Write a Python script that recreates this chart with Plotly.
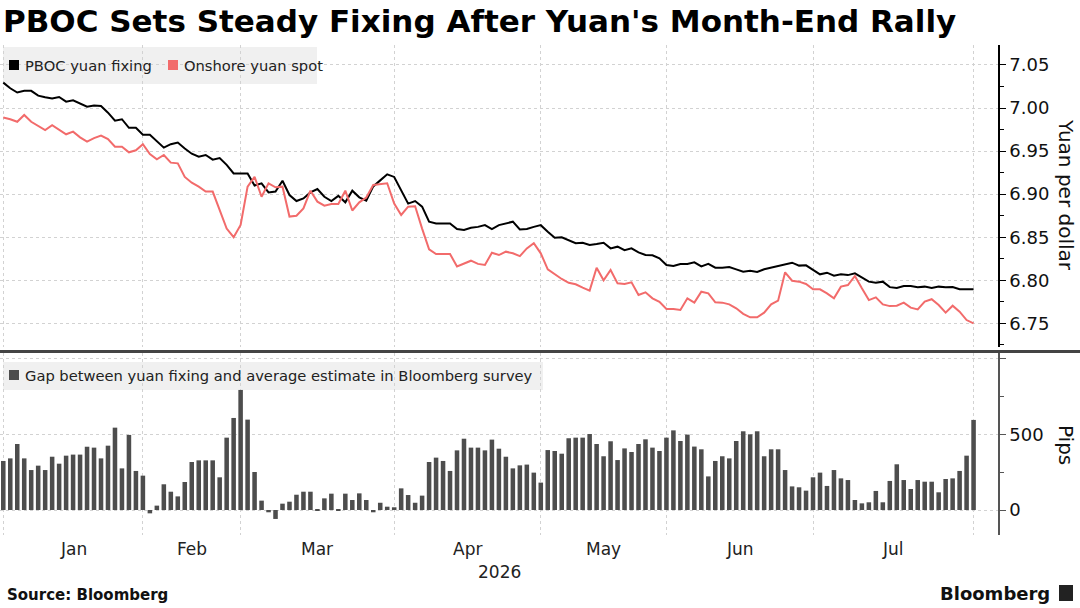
import pandas as pd
import plotly.graph_objects as go

# trading days shown on the chart (China onshore market, 2026)
holidays = ["2026-01-01", "2026-01-02", "2026-02-16", "2026-02-17", "2026-02-18",
            "2026-02-19", "2026-02-20", "2026-02-23", "2026-04-06", "2026-05-01",
            "2026-05-04", "2026-05-05", "2026-06-19"]
days = pd.bdate_range("2026-01-01", "2026-08-03")
days = days[~days.isin(pd.to_datetime(holidays))]
dates = [d.strftime("%Y-%m-%d") for d in days]

month_labels = ["Jan", "Feb", "Mar", "Apr", "May", "Jun", "Jul"]
year_label = "2026"

fixing = [
    7.0295, 7.0230, 7.0180, 7.0200, 7.0200, 7.0144, 7.0125, 7.0110, 7.0128, 7.0074,
    7.0090, 7.0055, 7.0016, 7.0028, 7.0024, 6.9946, 6.9853, 6.9870, 6.9770, 6.9770,
    6.9690, 6.9690, 6.9620, 6.9540, 6.9580, 6.9600, 6.9530, 6.9470, 6.9435, 6.9455,
    6.9400, 6.9420, 6.9340, 6.9240, 6.9240, 6.9240, 6.9100, 6.9125, 6.9020, 6.9030,
    6.9155, 6.8990, 6.8920, 6.8950, 6.9020, 6.9060, 6.8970, 6.8920, 6.8980, 6.8905,
    6.9040, 6.8963, 6.8925, 6.9090, 6.9160, 6.9230, 6.9200, 6.9050, 6.8890, 6.8920,
    6.8855, 6.8680, 6.8660, 6.8660, 6.8660, 6.8595, 6.8584, 6.8610, 6.8620, 6.8640,
    6.8595, 6.8640, 6.8660, 6.8680, 6.8590, 6.8595, 6.8620, 6.8640, 6.8564, 6.8495,
    6.8500, 6.8467, 6.8430, 6.8436, 6.8410, 6.8420, 6.8436, 6.8370, 6.8390, 6.8350,
    6.8370, 6.8324, 6.8293, 6.8290, 6.8255, 6.8177, 6.8166, 6.8188, 6.8188, 6.8208,
    6.8160, 6.8190, 6.8146, 6.8146, 6.8154, 6.8127, 6.8100, 6.8110, 6.8096, 6.8127,
    6.8146, 6.8166, 6.8185, 6.8204, 6.8170, 6.8173, 6.8120, 6.8069, 6.8088, 6.8053,
    6.8070, 6.8060, 6.8080, 6.8034, 6.7984, 6.7970, 6.7984, 6.7920, 6.7910, 6.7933,
    6.7933, 6.7920, 6.7926, 6.7910, 6.7926, 6.7920, 6.7922, 6.7895, 6.7895, 6.7895,
]

spot = [
    6.9890, 6.9870, 6.9840, 6.9920, 6.9840, 6.9790, 6.9745, 6.9800, 6.9745, 6.9695,
    6.9726, 6.9660, 6.9610, 6.9650, 6.9680, 6.9640, 6.9550, 6.9550, 6.9486, 6.9510,
    6.9580, 6.9466, 6.9404, 6.9455, 6.9366, 6.9358, 6.9200, 6.9133, 6.9087, 6.9030,
    6.9030, 6.8810, 6.8600, 6.8500, 6.8642, 6.9087, 6.9200, 6.8970, 6.9126, 6.9080,
    6.9087, 6.8740, 6.8750, 6.8835, 6.9040, 6.8913, 6.8866, 6.8886, 6.8886, 6.9040,
    6.8810, 6.8905, 6.8960, 6.9106, 6.9120, 6.9126, 6.8890, 6.8758, 6.8855, 6.8860,
    6.8600, 6.8360, 6.8305, 6.8305, 6.8305, 6.8160, 6.8190, 6.8227, 6.8190, 6.8177,
    6.8320, 6.8293, 6.8332, 6.8313, 6.8280, 6.8370, 6.8430, 6.8313, 6.8127, 6.8070,
    6.8015, 6.7970, 6.7953, 6.7914, 6.7880, 6.8146, 6.8000, 6.8119, 6.7964, 6.7956,
    6.7976, 6.7830, 6.7860, 6.7790, 6.7750, 6.7666, 6.7666, 6.7655, 6.7790, 6.7740,
    6.7867, 6.7848, 6.7744, 6.7740, 6.7720, 6.7674, 6.7610, 6.7570, 6.7570, 6.7624,
    6.7720, 6.7763, 6.8092, 6.7995, 6.7984, 6.7957, 6.7895, 6.7895, 6.7848, 6.7790,
    6.7926, 6.7945, 6.8050, 6.7906, 6.7770, 6.7802, 6.7720, 6.7700, 6.7705, 6.7740,
    6.7682, 6.7662, 6.7752, 6.7780, 6.7713, 6.7624, 6.7705, 6.7635, 6.7538, 6.7500,
]

# gap between fixing and survey estimate, pips
gap = [
    324, 341, 436, 341, 264, 293, 264, 352, 306, 359, 366, 366, 418, 412, 341, 425, 544, 275, 496, 258,
    227, -22, 29, 170, 121, 90, 185, 317, 328, 328, 328, 216, 478, 608,
    793, 597, 251, 62, -15, -59, 42, 55, 101, 121, 121, 3, 77, 108, 3, 108, 66, 110, 66, -15, 48, 22,
    18, 143, 99, 48, 95, 317, 346, 324, 258, 394, 471, 412, 412, 394, 465, 405, 352, 275, 295, 300, 247,
    181, 396, 390, 372, 474, 478, 478, 502, 436, 355, 454, 330, 407, 383, 436, 467, 412, 390,
    478, 526, 456, 498, 419, 401, 222, 324, 355, 341, 456, 520, 500, 520, 355, 401, 401, 264, 156, 150, 128,
    216, 247, 159, 264, 209, 198, 66, 44, 51, 126, 51, 192, 302, 198, 139, 198, 187, 187, 117, 205, 209, 258, 359,
    595,
]

# first trading day of every month -> vertical grid
month_idx = []
for i, d in enumerate(dates):
    if i == 0 or d[:7] != dates[i - 1][:7]:
        month_idx.append(i)
month_starts = [dates[i] for i in month_idx]

FONT = "DejaVu Sans"
W, H = 1080, 608
L, R, T, B = 0, 82, 45, 73
PW, PH = W - L - R, H - T - B


def px(x):
    return (x - L) / PW


def py(y):
    return (H - B - y) / PH


fig = go.Figure()
fig.add_trace(go.Scatter(x=dates, y=fixing, mode="lines", name="PBOC yuan fixing",
                         line=dict(color="#000000", width=2), xaxis="x", yaxis="y"))
fig.add_trace(go.Scatter(x=dates, y=spot, mode="lines", name="Onshore yuan spot",
                         line=dict(color="#f26b6b", width=2), xaxis="x", yaxis="y"))
fig.add_trace(go.Bar(x=dates, y=gap, name="Gap", marker=dict(color="#4d4d4d", line_width=0),
                     xaxis="x", yaxis="y2"))

grid = dict(gridcolor="#d2d2d2", griddash="dot", gridwidth=1)

fig.update_layout(
    width=W, height=H,
    margin=dict(l=L, r=R, t=T, b=B),
    paper_bgcolor="white", plot_bgcolor="white",
    showlegend=False, bargap=0.35,
    font=dict(family=FONT, color="#222222"),
    title=dict(text="PBOC Sets Steady Fixing After Yuan's Month-End Rally",
               font=dict(family=FONT, size=31, color="#000000", weight="bold"),
               x=3 / W, xref="container", xanchor="left",
               y=1 - 21 / H, yref="container", yanchor="middle"),
    xaxis=dict(type="category", domain=[0, 1], anchor="y2",
               range=[-0.47, 142.5], tickvals=month_starts, showticklabels=False,
               ticks="", showline=False, zeroline=False, showgrid=True, **grid),
    yaxis=dict(domain=[py(347), 1], anchor="x", side="right",
               range=[6.7225, 7.0732], tick0=6.75, dtick=0.05, tickformat=".2f",
               ticks="outside", ticklen=6, tickcolor="#000000",
               minor=dict(dtick=0.025, ticks="outside", ticklen=4, tickcolor="#000000", showgrid=False),
               showline=True, linecolor="#000000", linewidth=1.5,
               tickfont=dict(size=18, color="#111111"),
               showgrid=True, zeroline=False, **grid),
    yaxis2=dict(domain=[0, py(353)], anchor="x", side="right",
                range=[-165, 1037], tickvals=[0, 500, 1000], ticktext=["0", "500", ""],
                ticks="outside", ticklen=6, tickcolor="#555555",
                minor=dict(dtick=250, ticks="outside", ticklen=4, tickcolor="#555555", showgrid=False),
                showline=True, linecolor="#555555", linewidth=1.5,
                tickfont=dict(size=18, color="#111111"),
                showgrid=True, zeroline=False, **grid),
)

shapes = [
    # panel separator
    dict(type="line", xref="paper", yref="paper", x0=px(0), x1=px(W), y0=py(351.5), y1=py(351.5),
         line=dict(color="#444444", width=3)),
    # legend backgrounds
    dict(type="rect", xref="paper", yref="paper", x0=px(3), x1=px(317), y0=py(84), y1=py(47),
         fillcolor="#f0f0f0", line_width=0, layer="below"),
    dict(type="rect", xref="paper", yref="paper", x0=px(3), x1=px(543), y0=py(390), y1=py(362),
         fillcolor="#f0f0f0", line_width=0, layer="below"),
    # legend keys
    dict(type="rect", xref="paper", yref="paper", x0=px(9), x1=px(19), y0=py(70), y1=py(60),
         fillcolor="#000000", line_width=0),
    dict(type="rect", xref="paper", yref="paper", x0=px(168), x1=px(178), y0=py(70), y1=py(60),
         fillcolor="#f26b6b", line_width=0),
    dict(type="rect", xref="paper", yref="paper", x0=px(9), x1=px(19), y0=py(380), y1=py(370),
         fillcolor="#4d4d4d", line_width=0),
    # logo mark
    dict(type="rect", xref="paper", yref="paper", x0=px(1059), x1=px(1073), y0=py(601), y1=py(585),
         fillcolor="#222222", line_width=0),
]
fig.update_layout(shapes=shapes)

ann = []
ann.append(dict(text="PBOC yuan fixing", x=px(23), y=py(65), xanchor="left"))
ann.append(dict(text="Onshore yuan spot", x=px(182), y=py(65), xanchor="left"))
ann.append(dict(text="Gap between yuan fixing and average estimate in Bloomberg survey",
                x=px(23), y=py(375), xanchor="left"))
for a in ann:
    a.update(xref="paper", yref="paper", yanchor="middle", showarrow=False,
             font=dict(size=14.7, color="#222222", family=FONT))

bounds = month_idx + [len(dates) - 1]
for k, lab in enumerate(month_labels):
    ann.append(dict(text=lab, x=(bounds[k] + bounds[k + 1]) / 2, xref="x",
                    y=py(549), yref="paper", xanchor="center", yanchor="middle",
                    showarrow=False, font=dict(size=17, color="#222222")))
ann.append(dict(text=year_label, x=0.5, xref="paper", y=py(572), yref="paper",
                xanchor="center", yanchor="middle", showarrow=False,
                font=dict(size=17, color="#222222")))
ann.append(dict(text="Yuan per dollar", x=px(1066), y=py(195), xref="paper", yref="paper",
                textangle=90, xanchor="center", yanchor="middle", showarrow=False,
                font=dict(size=20, color="#111111")))
ann.append(dict(text="Pips", x=px(1066), y=py(445), xref="paper", yref="paper",
                textangle=90, xanchor="center", yanchor="middle", showarrow=False,
                font=dict(size=20, color="#111111")))
ann.append(dict(text="Source: Bloomberg", x=px(5), y=py(595), xref="paper", yref="paper",
                xanchor="left", yanchor="middle", showarrow=False,
                font=dict(size=15, color="#111111", weight="bold")))
ann.append(dict(text="Bloomberg", x=px(1052), y=py(593), xref="paper", yref="paper",
                xanchor="right", yanchor="middle", showarrow=False,
                font=dict(size=18, color="#111111", weight="bold")))
fig.update_layout(annotations=ann)

# page margin off so the figure fills the window from its top-left corner
fig.write_html("out.html", config={"displayModeBar": False},
               post_script="document.body.style.margin='0px';")
